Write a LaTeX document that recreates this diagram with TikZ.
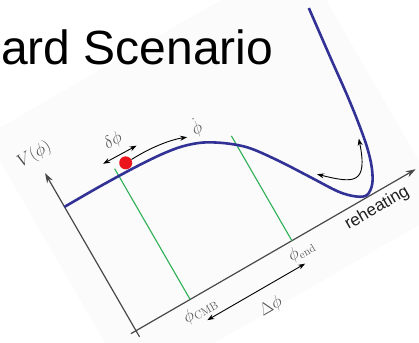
\documentclass[tikz,border=0pt]{standalone}
\usepackage{fontspec}
\newfontfamily\titlefont{Liberation Sans}
\usetikzlibrary{arrows.meta}
\definecolor{curveblue}{RGB}{50,50,150}
\definecolor{markgreen}{RGB}{45,175,85}
\definecolor{dotred}{RGB}{235,20,28}
\definecolor{axisgray}{RGB}{72,72,72}
\definecolor{labelgray}{RGB}{85,85,85}
\definecolor{paper}{RGB}{251,251,251}
\tikzset{
  potential/.style={draw=curveblue, line width=2.6pt},
  marker/.style={draw=markgreen, line width=1.1pt},
  axisline/.style={draw=axisgray, line width=1.2pt, -{Stealth[length=10pt,width=6.5pt]}},
  motion/.style={draw=black, line width=0.9pt, {Stealth[length=7pt,width=5pt]}-{Stealth[length=7pt,width=5pt]}},
  motionone/.style={draw=black, line width=0.9pt, -{Stealth[length=7pt,width=5pt]}},
  mlabel/.style={text=labelgray, inner sep=0pt, font=\fontsize{16}{16}\selectfont},
}
\begin{document}
\begin{tikzpicture}[x=1pt,y=1pt]
\useasboundingbox (0,-342) rectangle (419,0);
\clip (0,-342) rectangle (419,0);
\begin{scope}[shift={(136,-330.7)}, rotate=30, every node/.append style={transform shape}]
  \fill[paper] (-33,-50) rectangle (330,244);
  % axes
  \coordinate (O) at (0,0);
  \coordinate (xneg) at (-6,0);
  \coordinate (xtip) at (323,0);
  \coordinate (yneg) at (0,-7);
  \coordinate (ytip) at (0,182);
  \draw[axisline] (xneg) -- (xtip);
  \draw[axisline] (yneg) -- (ytip);
  % green markers
  \coordinate (cmbB) at (62.5,0);
  \coordinate (cmbT) at (62.5,151);
  \coordinate (endB) at (180,0);
  \coordinate (endT) at (180,121);
  \draw[marker] (cmbB) -- (cmbT);
  \draw[marker] (endB) -- (endT);
  % potential
  \draw[potential, line join=round] plot[smooth, tension=0.55] coordinates {(0,143) (40,143) (80,142) (110,140) (132,136.5) (152,129.5) (172,117) (190,101) (209,75) (227,47) (245,19) (258,6) (268,2) (278,9) (286,24) (292,44) (297,72) (301,102) (305,140) (311,193)};
  % red ball
  \node[circle, fill=dotred, inner sep=0pt, minimum size=13pt] (ball) at (75,150.5) {};
  % delta phi arrow
  \coordinate (dL) at (55,161);
  \coordinate (dR) at (93,160);
  \draw[motion] (dL) -- (dR);
  \node[mlabel] (dphi) at (75,175.5) {$\delta\phi$};
  % phidot arrow
  \coordinate (vT) at (141,142);
  \draw[motionone] (ball.east) .. controls (105,151.5) and (126,148) .. (vT);
  \node[mlabel] (phidot) at (154,146) {$\dot\phi$};
  % oscillation arrow
  \coordinate (oL) at (235,45);
  \coordinate (oU) at (289,55);
  \draw[motion] (oL) .. controls (262,19) and (274,10) .. (oU);
  % axis labels
  \node[text=axisgray, inner sep=0pt, font=\fontsize{18}{18}\selectfont] (Vlab) at (0,203) {$V(\phi)$};
  \node[mlabel] (cmb) at (66,-14.5) {$\phi_{\mathrm{CMB}}$};
  \node[mlabel] (phiend) at (183,-14) {$\phi_{\mathrm{end}}$};
  \coordinate (DL) at (67,-26.5);
  \coordinate (DR) at (180,-26.5);
  \draw[motion] (DL) -- (DR);
  \node[mlabel, font=\fontsize{18}{18}\selectfont] (Dphi) at (129,-46.5) {$\Delta\phi$};
  \node[inner sep=0pt, text=black!88, font=\titlefont\fontsize{17}{17}\selectfont] (reh) at (270,-14.6) {reheating};
\end{scope}
\node[anchor=base west, inner sep=0pt, font=\titlefont\fontsize{48}{48}\selectfont] (title) at (1,-65) {ard Scenario};
\end{tikzpicture}
\end{document}
